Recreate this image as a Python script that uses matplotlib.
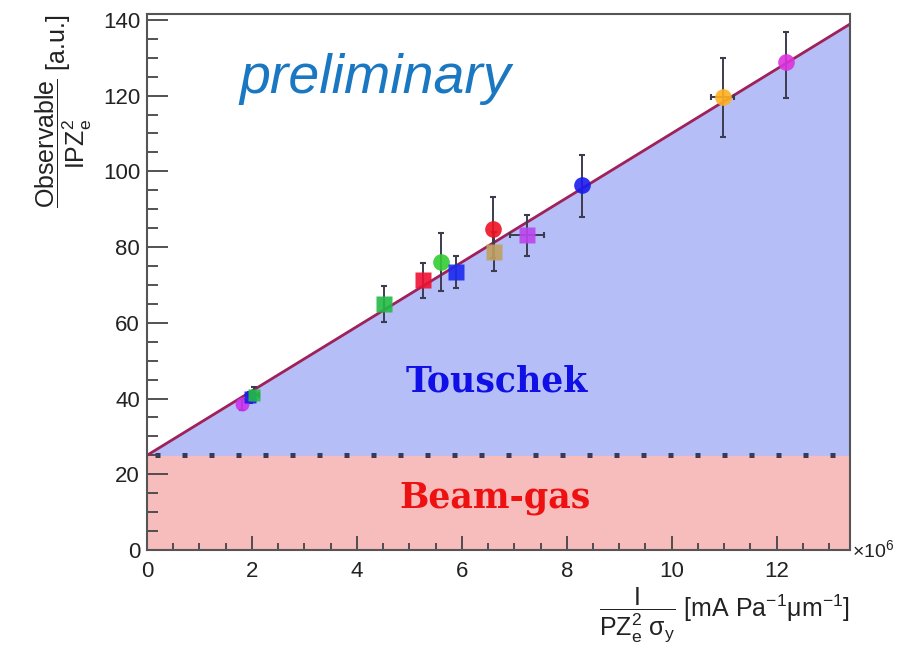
import numpy as np
import matplotlib
matplotlib.use("Agg")
from matplotlib import pyplot as plt
from matplotlib.ticker import MultipleLocator

plt.rcParams['font.family'] = ['Liberation Sans', 'DejaVu Sans']
plt.rcParams['mathtext.fontset'] = 'custom'
plt.rcParams['mathtext.rm'] = 'Liberation Sans'
plt.rcParams['mathtext.it'] = 'Liberation Sans:italic'

# measurements (x in units of 1e6)
px = [1.81, 1.97, 2.03, 4.51, 5.26, 5.60, 5.89, 6.59, 6.61, 7.24, 8.29, 10.97, 12.17]
py = [38.5, 40.3, 41.0, 64.9, 71.2, 76.0, 73.4, 84.7, 78.6, 83.1, 96.3, 119.5, 128.8]
y_err_lo = [1.5, 1.5, 1.5, 4.7, 4.7, 7.7, 4.3, 7.5, 5.0, 5.5, 8.3, 10.5, 9.5]
y_err_hi = [1.5, 1.5, 2.0, 4.7, 4.5, 7.6, 4.2, 8.4, 5.4, 5.3, 8.1, 10.5, 8.1]
x_err = [0.0, 0.0, 0.1, 0.0, 0.0, 0.0, 0.0, 0.0, 0.0, 0.33, 0.0, 0.22, 0.0]
colors = ['#cc33ee', '#1a1aee', '#22bb44', '#22bb44', '#ee1133', '#33cc33', '#1a2aee',
          '#ee1122', '#c0a060', '#bb44ee', '#1a1aee', '#ffb020', '#dd33dd']
markers = ['o', 's', 's', 's', 's', 'o', 's', 'o', 's', 's', 'o', 'o', 'o']
sizes = [10, 9, 9, 12, 12, 12, 12, 12, 12, 12, 12, 12, 12]

# linear fit
fit_intercept = 25.0
fit_slope = 8.5
beam_gas = 25.0
x_max = 13.4
y_max = 141.5

fig = plt.figure(figsize=(9.16, 6.45), dpi=100)
ax = fig.add_axes([0.1605, 0.1473, 0.928 - 0.1605, 0.978 - 0.1473])

xl = np.linspace(0, x_max, 200)
yl = fit_intercept + fit_slope * xl
ax.fill_between(xl, 0, beam_gas, color='#f7bcbc', lw=0, zorder=0)
ax.fill_between(xl, beam_gas, yl, color='#b5bef6', lw=0, zorder=0)
ax.plot([0, x_max], [beam_gas, beam_gas], color='#3a3a58', lw=3.6,
        linestyle=(3.8, (1, 4.4)), dash_capstyle='butt', zorder=1)
ax.plot(xl, yl, color='#a0205a', lw=2, zorder=2)

for i in range(len(px)):
    ax.errorbar(px[i], py[i], yerr=[[y_err_lo[i]], [y_err_hi[i]]],
                xerr=x_err[i] if x_err[i] > 0 else None,
                fmt='none', ecolor='#3c3c50', elinewidth=1.4, capsize=2.5, capthick=1.5,
                zorder=3)
    ax.plot(px[i], py[i], marker=markers[i], color=colors[i], ms=sizes[i], mec='none',
            alpha=0.9, zorder=4)

ax.set_xlim(0, x_max)
ax.set_ylim(0, y_max)
ax.xaxis.set_major_locator(MultipleLocator(2))
ax.xaxis.set_minor_locator(MultipleLocator(0.5))
ax.yaxis.set_major_locator(MultipleLocator(20))
ax.yaxis.set_minor_locator(MultipleLocator(5))
ax.tick_params(axis='both', which='both', direction='in', colors='#444444',
               labelcolor='#222222', labelsize=16, width=1.3)
ax.tick_params(axis='x', which='major', length=10, pad=8)
ax.tick_params(axis='x', which='minor', length=5)
ax.tick_params(axis='y', which='major', length=15, pad=5)
ax.tick_params(axis='y', which='minor', length=8)
for s in ax.spines.values():
    s.set_color('#555555')
    s.set_linewidth(1.5)

ax.text(1.003, 0.0, r'$\times10^{6}$', transform=ax.transAxes, fontsize=14,
        ha='left', va='center', color='#222222')

ax.set_xlabel(r'$\dfrac{\mathrm{I}}{\mathrm{PZ_e^2\ \sigma_y}}$ [mA Pa$^{-1}$μm$^{-1}$]',
              loc='right', fontsize=18, labelpad=2, color='#222222')
ax.set_ylabel(r'$\dfrac{\mathrm{Observable}}{\mathrm{IPZ_e^2}}$ [a.u.]',
              loc='top', fontsize=18, labelpad=6, color='#222222')

ax.text(0.324, 0.853, 'preliminary', transform=ax.transAxes, fontsize=40,
        style='italic', color='#1a78c2', ha='center', va='baseline')
ax.text(0.498, 0.295, 'Touschek', transform=ax.transAxes, fontsize=25, fontweight='bold',
        family='DejaVu Serif', color='#1010e6', ha='center', va='baseline')
ax.text(0.4947, 0.080, 'Beam-gas', transform=ax.transAxes,
        fontsize=25, fontweight='bold', family='DejaVu Serif', color='#ee1111',
        ha='center', va='baseline')

fig.savefig('out.png', dpi=100)
